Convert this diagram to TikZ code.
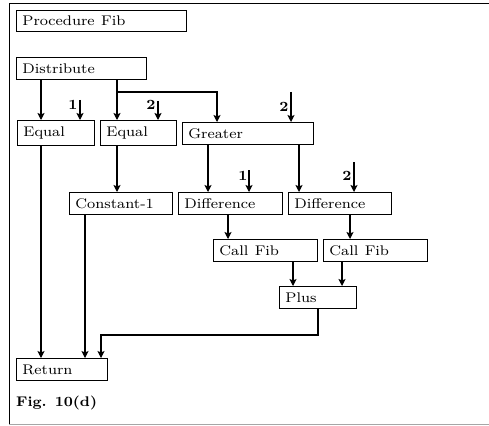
\documentclass[tikz,border=0pt]{standalone}
\usepackage{graphicx}
\usetikzlibrary{arrows.meta}
\newcommand\bigtxt[1]{\scalebox{1.92}[1.75]{\fontsize{8}{9.6}\selectfont #1}}
\newcommand\bigbf[1]{\scalebox{1.85}[1.75]{\fontsize{8}{9.6}\selectfont\bfseries #1}}
\begin{document}
\begin{tikzpicture}[x=1pt,y=-1pt,
  box/.style={draw, line width=0.8pt, anchor=north west, inner xsep=6pt, inner ysep=0pt,
    align=left},
  arr/.style={line width=1.1pt, -{Stealth[length=7pt,width=7pt,inset=1.5pt]}},
  lbl/.style={inner sep=0pt},
  frame/.style={line width=0.8pt}]
\useasboundingbox (0,0) rectangle (489,425);
\draw[frame] (489,3) -- (9,3) -- (9,424);
\draw[frame, black!35] (9,424) -- (489,424);

\node[box, text width=158pt, minimum height=21pt] (proc) at (16,10) {\bigtxt{Procedure Fib}};
\node[box, text width=118pt, minimum height=22pt] (dist) at (16,57) {\bigtxt{Distribute}};
\node[box, text width=65pt, minimum height=25pt] (eq1) at (17,120) {\bigtxt{Equal}};
\node[box, text width=64pt, minimum height=25pt] (eq2) at (100,120) {\bigtxt{Equal}};
\node[box, text width=119pt, minimum height=22pt] (gr) at (182,122) {\bigtxt{Greater}};
\node[box, text width=91pt, minimum height=22pt] (const) at (69,192) {\bigtxt{Constant-1}};
\node[box, text width=92pt, minimum height=22pt] (diff1) at (178,192) {\bigtxt{Difference}};
\node[box, text width=91pt, minimum height=22pt] (diff2) at (288,192) {\bigtxt{Difference}};
\node[box, text width=92pt, minimum height=22pt] (cf1) at (213,239) {\bigtxt{Call Fib}};
\node[box, text width=92pt, minimum height=22pt] (cf2) at (323,239) {\bigtxt{Call Fib}};
\node[box, text width=65pt, minimum height=22pt] (plus) at (279,286) {\bigtxt{Plus}};
\node[box, text width=79pt, minimum height=22pt] (ret) at (16,358) {\bigtxt{Return}};
\node[anchor=west, inner sep=0pt] (fig) at (16,403) {\bigbf{Fig. 10(d)}};

% x positions of connectors
\coordinate (xA) at (41,0);
\coordinate (xB) at (117,0);
\coordinate (xC) at (217,0);
\coordinate (xD) at (85,0);
\coordinate (xE) at (318,0);
\coordinate (xF) at (208,0);
\coordinate (xG) at (299,0);
\coordinate (xH) at (228,0);
\coordinate (xI) at (350,0);
\coordinate (xJ) at (293,0);
\coordinate (xK) at (342,0);
\coordinate (br) at (117,92);
\coordinate (jn) at (101,335);

\draw[arr] (dist.south -| xA) -- (eq1.north -| xA);
\draw[arr] (eq1.south -| xA) -- (ret.north -| xA);
\draw[arr] (dist.south -| xB) -- (eq2.north -| xB);
\draw[arr] (br) -| (gr.north -| xC);
\draw[arr] (eq2.south -| xB) -- (const.north -| xB);
\draw[arr] (const.south -| xD) -- (ret.north -| xD);
\draw[arr] (gr.south -| xF) -- (diff1.north -| xF);
\draw[arr] (gr.south -| xG) -- (diff2.north -| xG);
\draw[arr] (diff1.south -| xH) -- (cf1.north -| xH);
\draw[arr] (diff2.south -| xI) -- (cf2.north -| xI);
\draw[arr] (cf1.south -| xJ) -- (plus.north -| xJ);
\draw[arr] (cf2.south -| xK) -- (plus.north -| xK);
\draw[arr] (plus.south -| xE) |- (jn) -- (ret.north -| jn);

% constant inputs
\coordinate (i1) at (80,100);
\coordinate (i2) at (158,101);
\coordinate (i3) at (291,92);
\coordinate (i4) at (249,170);
\coordinate (i5) at (354,162);
\draw[arr] (i1) -- (eq1.north -| i1);
\draw[arr] (i2) -- (eq2.north -| i2);
\draw[arr] (i3) -- (gr.north -| i3);
\draw[arr] (i4) -- (diff1.north -| i4);
\draw[arr] (i5) -- (diff2.north -| i5);
\node[lbl] (n1) at (73,105) {\bigbf{1}};
\node[lbl] (n2) at (151,105) {\bigbf{2}};
\node[lbl] (n3) at (284,107) {\bigbf{2}};
\node[lbl] (n4) at (243,176) {\bigbf{1}};
\node[lbl] (n5) at (347,176) {\bigbf{2}};
\end{tikzpicture}
\end{document}
